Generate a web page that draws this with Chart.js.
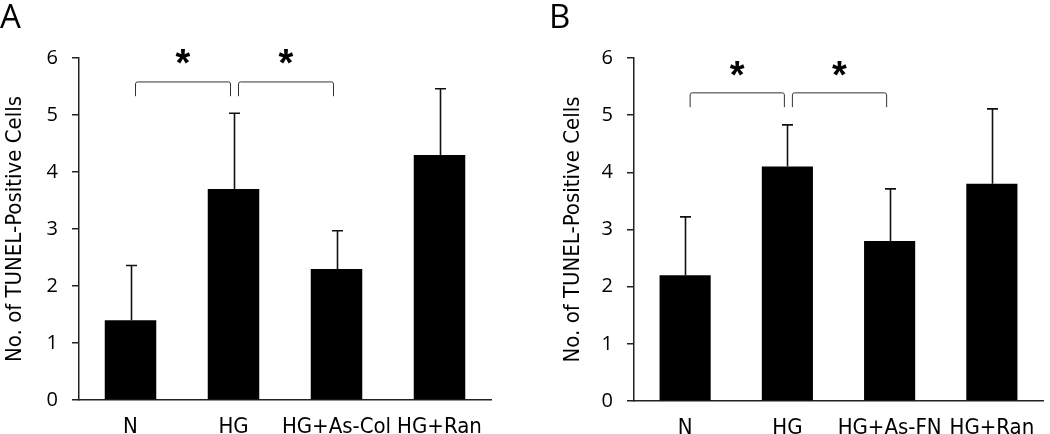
<!DOCTYPE html>
<html>
<head>
  <meta charset="UTF-8">
  <title>TUNEL-Positive Cells</title>
  <script src="https://cdn.jsdelivr.net/npm/chart.js"></script>
  <style>
    body {
      margin: 0;
      background: #fff;
      overflow: hidden;
    }
    .wrap {
      position: relative;
      width: 1050px;
      height: 434px;
    }
    .panel {
      position: absolute;
      top: 0;
    }
    .letter {
      position: absolute;
      top: -1px;
      font-family: 'Open Sans', sans-serif;
      font-size: 33px;
      line-height: 1;
      color: #000;
    }
  </style>
</head>
<body>
  <div class="wrap">
    <canvas id="chartA" class="panel" style="left:0" width="525" height="434"></canvas>
    <canvas id="chartB" class="panel" style="left:525px" width="525" height="434"></canvas>
    <div class="letter" style="left:0">A</div>
    <div class="letter" style="left:549px">B</div>
  </div>

  <script>
    // values
    const categoriesA = ['N', 'HG', 'HG+As-Col', 'HG+Ran'];
    const meansA = [1.4, 3.7, 2.3, 4.3];
    const upperA = [2.36, 5.03, 2.97, 5.46];

    const categoriesB = ['N', 'HG', 'HG+As-FN', 'HG+Ran'];
    const meansB = [2.2, 4.1, 2.8, 3.8];
    const upperB = [3.22, 4.83, 3.71, 5.11];

    const yTicks = [0, 1, 2, 3, 4, 5, 6];
    const yTitle = 'No. of TUNEL-Positive Cells';

    // significance brackets: pairs of category indexes
    const bracketPairs = [[0, 1], [1, 2]];
    const bracketTopA = 5.58, bracketLegA = 5.33, starA = 6.0;
    const bracketTopB = 5.39, bracketLegB = 5.14, starB = 5.79;

    const narrow = "'Liberation Sans Narrow', 'DejaVu Sans Condensed', sans-serif";

    const extras = {
      id: 'extras',
      afterDatasetsDraw(chart, args, opts) {
        const ctx = chart.ctx;
        const y = chart.scales.y;
        const bars = chart.getDatasetMeta(0).data;
        ctx.save();

        // error bars (upper only)
        ctx.strokeStyle = '#111';
        ctx.lineWidth = 1.6;
        bars.forEach((bar, i) => {
          const x = Math.round(bar.x) + 0.5;
          const y0 = y.getPixelForValue(opts.means[i]);
          const y1 = y.getPixelForValue(opts.upper[i]);
          ctx.beginPath();
          ctx.moveTo(x, y0);
          ctx.lineTo(x, y1);
          ctx.moveTo(x - 5.5, y1);
          ctx.lineTo(x + 5.5, y1);
          ctx.stroke();
        });

        // brackets with stars
        ctx.strokeStyle = '#333';
        ctx.lineWidth = 1;
        const yt = y.getPixelForValue(opts.top);
        const yb = y.getPixelForValue(opts.leg);
        const ys = y.getPixelForValue(opts.star);
        opts.pairs.forEach(p => {
          const x1 = bars[p[0]].x + 5;
          const x2 = bars[p[1]].x - 3;
          ctx.beginPath();
          ctx.moveTo(x1, yb);
          ctx.lineTo(x1, yt + 2);
          ctx.quadraticCurveTo(x1, yt, x1 + 2, yt);
          ctx.lineTo(x2 - 2, yt);
          ctx.quadraticCurveTo(x2, yt, x2, yt + 2);
          ctx.lineTo(x2, yb);
          ctx.stroke();

          ctx.fillStyle = '#000';
          ctx.font = "bold 38px 'Liberation Sans', sans-serif";
          ctx.textAlign = 'center';
          ctx.textBaseline = 'middle';
          ctx.fillText('*', (x1 + x2) / 2, ys + 8);
        });
        ctx.restore();
      }
    };

    function makePanel(id, categories, means, upper, o) {
      return new Chart(document.getElementById(id), {
        type: 'bar',
        data: {
          labels: categories,
          datasets: [{
            data: means,
            backgroundColor: '#000',
            borderWidth: 0,
            barPercentage: 0.5,
            categoryPercentage: 1
          }]
        },
        options: {
          responsive: false,
          animation: false,
          layout: { padding: { left: o.padLeft, right: o.padRight, top: 58, bottom: 0 } },
          plugins: {
            legend: { display: false },
            tooltip: { enabled: false },
            extras: { means: means, upper: upper, pairs: bracketPairs, top: o.top, leg: o.leg, star: o.star }
          },
          scales: {
            x: {
              grid: { display: false },
              border: { display: true, color: '#222', width: 1.5 },
              ticks: { color: '#000', padding: 6, autoSkip: false, maxRotation: 0, font: { family: narrow, size: 22 } },
              afterFit: s => { s.height = o.xHeight; }
            },
            y: {
              min: 0,
              max: 6,
              afterBuildTicks: s => { s.ticks = yTicks.map(v => ({ value: v })); },
              grid: { display: true, drawOnChartArea: false, drawTicks: true, tickLength: 7, color: '#222', lineWidth: 1.5 },
              border: { display: true, color: '#222', width: 1.5 },
              ticks: { color: '#000', padding: 14, font: { family: "'Open Sans', sans-serif", size: 20 } },
              title: {
                display: true,
                text: yTitle,
                color: '#000',
                padding: { top: 2, bottom: 0 },
                font: { family: narrow, size: 22 }
              },
              afterFit: s => { s.width = o.yWidth; }
            }
          }
        },
        plugins: [extras]
      });
    }

    makePanel('chartA', categoriesA, meansA, upperA,
      { padLeft: 0, padRight: 34, yWidth: 79, xHeight: 34, top: bracketTopA, leg: bracketLegA, star: starA });
    makePanel('chartB', categoriesB, meansB, upperB,
      { padLeft: 33, padRight: 7, yWidth: 76, xHeight: 33, top: bracketTopB, leg: bracketLegB, star: starB });
  </script>
</body>
</html>
